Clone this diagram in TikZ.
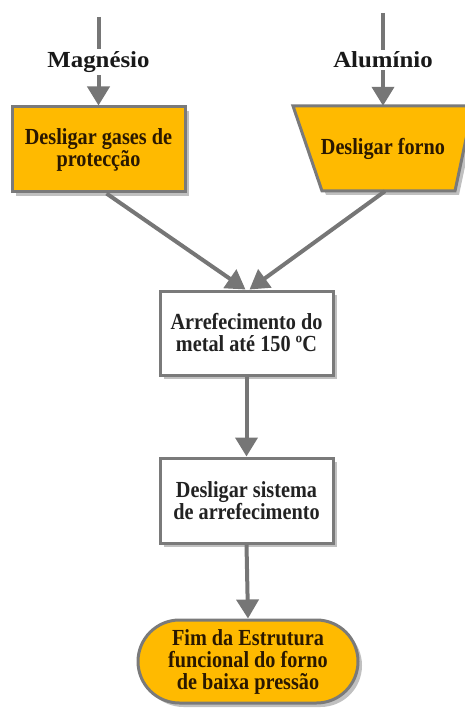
\documentclass[tikz,border=0pt]{standalone}
\usepackage{fontspec}
\setmainfont{Liberation Serif}
\newfontfamily\boxfont{Liberation Serif}[FakeStretch=0.88]
\newfontfamily\tagfont{Liberation Serif}[FakeStretch=1.08]
\usetikzlibrary{arrows.meta,shapes.misc,shadows,calc}
\definecolor{boxorange}{HTML}{FFBA00}
\definecolor{edgegray}{HTML}{7A7A7A}
\definecolor{flowgray}{HTML}{767676}
\definecolor{inkbrown}{HTML}{2A1800}
\definecolor{inkdark}{HTML}{222222}
\begin{document}
\begin{tikzpicture}[x=1pt,y=-1pt,
  shade/.style={drop shadow={shadow xshift=4pt,shadow yshift=-4pt,fill=black!45,opacity=0.55}},
  stepbox/.style={draw=edgegray,line width=3pt,shade,align=center,
    font=\boxfont\fontsize{23}{22}\selectfont\bfseries,inner sep=0pt},
  orangebox/.style={stepbox,fill=boxorange,text=inkbrown},
  whitebox/.style={stepbox,fill=white,text=inkdark},
  flow/.style={draw=flowgray,line width=4pt,-{Triangle[width=22pt,length=19pt]}},
  tag/.style={fill=white,inner sep=2pt,font=\tagfont\fontsize{23}{25}\selectfont\bfseries,text=black!90}]
\useasboundingbox (0,0) rectangle (465,711);

% input branches
\coordinate (mgtop) at (98.5,17);
\coordinate (altop) at (383,13);
\node[orangebox,minimum width=173pt,minimum height=85pt] (gas) at (98.5,149.5)
  {Desligar gases de\\protecção};
% inverted trapezoid for the furnace step, with its label node on top
\path[draw=edgegray,line width=3pt,fill=boxorange,shade,line join=miter]
  (293,106) -- (473,106) -- (455,191) -- (322,191) -- cycle;
\node[font=\boxfont\fontsize{23}{22}\selectfont\bfseries,text=inkbrown,
  minimum height=85pt,inner sep=0pt] (forno) at (383,148.5) {Desligar forno};

% main sequence
\node[whitebox,minimum width=173pt,minimum height=84pt] (cool) at (246.5,333)
  {Arrefecimento do\\metal até 150 ºC};
\node[whitebox,minimum width=173pt,minimum height=85pt] (off) at (246.5,500.5)
  {Desligar sistema\\de arrefecimento};
\node[orangebox,rounded rectangle,minimum width=220pt,minimum height=83pt] (fim) at (248,661.5)
  {Fim da Estrutura\\funcional do forno\\de baixa pressão};

% connectors
\draw[flow] (mgtop) -- (gas.north);
\draw[flow] (altop) -- (forno.north);
\node[tag] (mg) at (98.5,62) {Magnésio};
\node[tag] (al) at (383,60) {Alumínio};
\draw[flow] ($(gas.south)+(8,0)$) -- ($(cool.north)+(-1,0)$);
\draw[flow] ($(forno.south)+(2,0)$) -- ($(cool.north)+(3,0)$);
\draw[flow] (cool.south) -- (off.north);
\draw[flow] (off.south) -- (fim.north);
\end{tikzpicture}
\end{document}
